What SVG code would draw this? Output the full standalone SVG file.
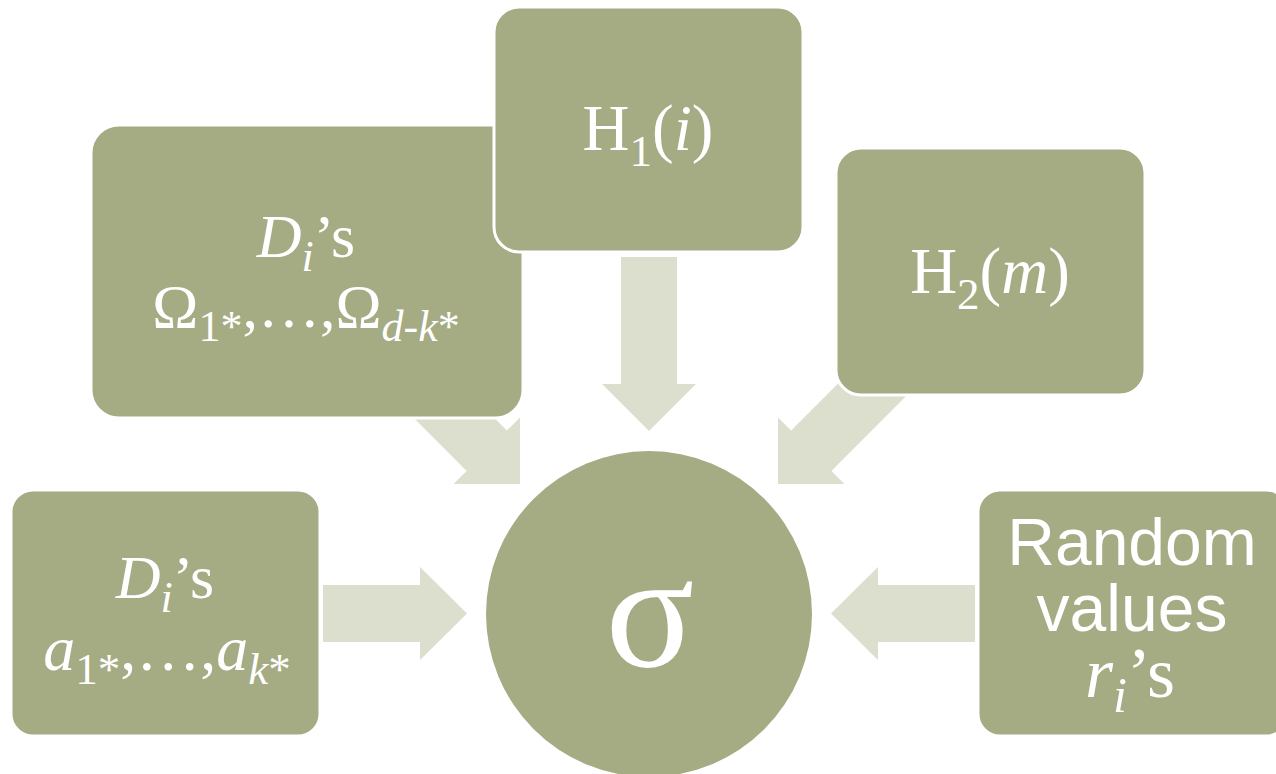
<svg xmlns="http://www.w3.org/2000/svg" width="1276" height="774" viewBox="0 0 1276 774">
  <defs>
    <style>
      .box { fill: #A5AB82; stroke: #FFFFFF; stroke-width: 3; }
      .arrow { fill: #DCDFCE; stroke: none; }
      .t { fill: #FFFFFF; font-family: "Liberation Serif", "Times New Roman", serif; text-anchor: middle; }
      .s { font-family: "Liberation Sans", Arial, sans-serif; }
      .it { font-style: italic; }
    </style>
    <polygon id="diagArrow" points="-180,-28.5 -47,-28.5 -47,-47 0,0 -47,47 -47,28.5 -180,28.5"/>
  </defs>
  <rect width="1276" height="774" fill="#FFFFFF"/>

  <g id="connectors">
    <use href="#diagArrow" class="arrow" transform="translate(520,484) rotate(45)"/>
    <use href="#diagArrow" class="arrow" transform="translate(778,484) rotate(135)"/>
    <polygon class="arrow" points="621,257 677,257 677,384 696,384 649,431 602,384 621,384"/>
    <polygon class="arrow" points="323,585 420,585 420,567 467,613.5 420,660 420,642 323,642"/>
    <polygon class="arrow" points="975,585 878,585 878,567 831,613.5 878,660 878,642 975,642"/>
  </g>

  <g id="node-di-omega">
    <rect class="box" x="91" y="125" width="432" height="293" rx="28"/>
    <text class="t" font-size="62"><tspan x="306" y="257"><tspan class="it">D</tspan><tspan class="it" font-size="44" dy="14">i</tspan><tspan dy="-14">’s</tspan></tspan><tspan x="306" y="327">Ω<tspan font-size="44" dy="14">1*</tspan><tspan dy="-14">,…,Ω</tspan><tspan font-size="44" dy="14"><tspan class="it">d</tspan>-<tspan class="it">k</tspan>*</tspan></tspan></text>
  </g>

  <g id="node-h1">
    <rect class="box" x="494" y="7" width="309" height="245" rx="25"/>
    <text class="t" x="648" y="150" font-size="65">H<tspan font-size="45" dy="16">1</tspan><tspan dy="-16">(</tspan><tspan class="it">i</tspan>)</text>
  </g>

  <g id="node-h2">
    <rect class="box" x="836" y="148" width="309" height="247" rx="25"/>
    <text class="t" x="990" y="293" font-size="65">H<tspan font-size="45" dy="16">2</tspan><tspan dy="-16">(</tspan><tspan class="it">m</tspan>)</text>
  </g>

  <g id="node-di-a">
    <rect class="box" x="11" y="490" width="309" height="246" rx="22"/>
    <text class="t" font-size="62"><tspan x="165" y="598"><tspan class="it">D</tspan><tspan class="it" font-size="44" dy="14">i</tspan><tspan dy="-14">’s</tspan></tspan><tspan x="167" y="670" font-size="64"><tspan class="it">a</tspan><tspan font-size="45" dy="14">1*</tspan><tspan dy="-14">,…,</tspan><tspan class="it">a</tspan><tspan font-size="45" dy="14"><tspan class="it">k</tspan>*</tspan></tspan></text>
  </g>

  <g id="node-random">
    <rect class="box" x="978" y="490" width="310" height="246" rx="22"/>
    <text class="t" font-size="66"><tspan class="s" x="1132" y="565">Random</tspan><tspan class="s" x="1132" y="631">values</tspan><tspan x="1130" y="697" font-size="72"><tspan class="it">r</tspan><tspan class="it" font-size="50" dy="15">i</tspan><tspan dy="-15">’s</tspan></tspan></text>
  </g>

  <g id="node-sigma">
    <circle cx="649" cy="614" r="163" fill="#A5AB82"/>
    <text class="t" x="650" y="666" font-size="165">σ</text>
  </g>
</svg>
